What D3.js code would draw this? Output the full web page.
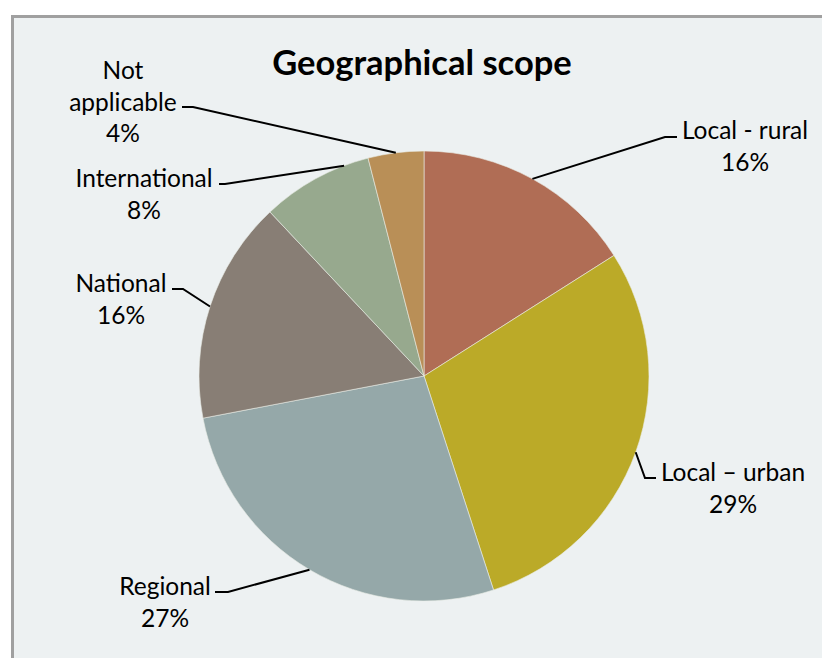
<!DOCTYPE html>
<html>
<head>
<meta charset="utf-8">
<script src="https://cdn.jsdelivr.net/npm/d3@7"></script>
<style>
  html, body { margin: 0; padding: 0; background: #ffffff; }
  svg { display: block; }
  text { font-family: Lato, "Open Sans", "DejaVu Sans", sans-serif; fill: #000; }
</style>
</head>
<body>
<svg id="chart" width="822" height="658"></svg>
<script>
// Geographical scope of the initiatives (share of responses, %)
const categories = ["Local - rural", "Local \u2013 urban", "Regional", "National", "International", "Not applicable"];
const values = [16, 29, 27, 16, 8, 4];
const colors = ["#b06d55", "#bbaa28", "#95a8a9", "#887e75", "#97a98e", "#b98f57"];
const title = "Geographical scope";

// Label layout: text lines, centre x, first baseline, leader start and elbow
const labelLayout = [
  { lines: ["Local - rural"], cx: 745, y: 139, lx: 677, ly: 137, ex: 665, shift: 0 },
  { lines: ["Local \u2013 urban"], cx: 733, y: 481, lx: 656, ly: 478, ex: 645, shift: 0 },
  { lines: ["Regional"], cx: 165, y: 595, lx: 215, ly: 592, ex: 228, shift: 0 },
  { lines: ["National"], cx: 121, y: 292, lx: 172, ly: 289, ex: 183, shift: 0 },
  { lines: ["International"], cx: 144, y: 187, lx: 219, ly: 184, ex: 225, shift: 8 },
  { lines: ["Not", "applicable"], cx: 123, y: 79, lx: 182, ly: 107, ex: 193, shift: 0 }
];

const W = 822, H = 658;
const cx = 424, cy = 376, R = 225;
const lineH = 31.5;

const svg = d3.select("#chart");

// fragment of the caption above the panel
svg.append("text").attr("x", 33).attr("y", -4).attr("font-size", 22).text("g");

// chart panel
svg.append("rect")
  .attr("x", 12.5).attr("y", 16.5)
  .attr("width", W + 20).attr("height", H + 20)
  .attr("fill", "#edf1f2")
  .attr("stroke", "#a0a0a0").attr("stroke-width", 3);

svg.append("text")
  .attr("x", 422).attr("y", 75)
  .attr("text-anchor", "middle")
  .attr("font-size", 34.5).attr("font-weight", "bold")
  .text(title);

const data = categories.map((c, i) => ({ name: c, value: values[i], color: colors[i], layout: labelLayout[i] }));

const pie = d3.pie().value(d => d.value).sort(null);
const arcs = pie(data);
const arc = d3.arc().innerRadius(0).outerRadius(R);

const g = svg.append("g").attr("transform", `translate(${cx},${cy})`);

g.selectAll("path.slice")
  .data(arcs)
  .join("path")
  .attr("class", "slice")
  .attr("d", arc)
  .attr("fill", d => d.data.color)
  .attr("stroke", "#e9ece6")
  .attr("stroke-width", 0.6);

// leader lines and labels
const labels = svg.append("g");
arcs.forEach(a => {
  const L = a.data.layout;
  const ang = (a.startAngle + a.endAngle) / 2 + L.shift * Math.PI / 180;
  const px = cx + R * Math.sin(ang);
  const py = cy - R * Math.cos(ang);
  labels.append("polyline")
    .attr("points", `${L.lx},${L.ly} ${L.ex},${L.ly} ${px},${py}`)
    .attr("fill", "none")
    .attr("stroke", "#000")
    .attr("stroke-width", 2);
  const t = labels.append("text")
    .attr("text-anchor", "middle")
    .attr("font-size", 24.5);
  const lines = L.lines.concat([d3.format(".0f")(a.data.value) + "%"]);
  lines.forEach((s, k) => {
    t.append("tspan").attr("x", L.cx).attr("y", L.y + k * lineH).text(s);
  });
});
</script>
</body>
</html>
